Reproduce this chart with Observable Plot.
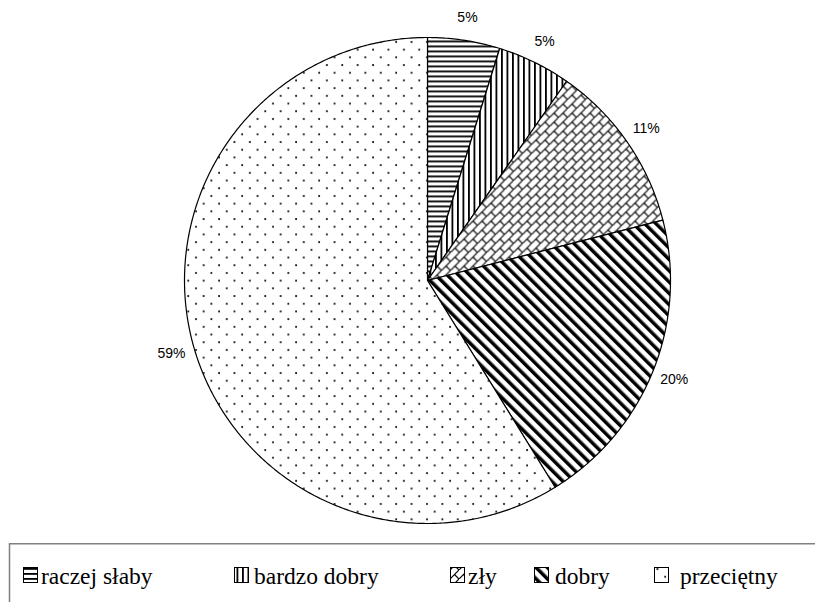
<!DOCTYPE html>
<html><head><meta charset="utf-8">
<script src="https://cdn.jsdelivr.net/npm/d3@7"></script>
<script src="https://cdn.jsdelivr.net/npm/@observablehq/plot@0.6"></script>
<style>
body{margin:0;background:#fff;width:815px;height:602px;overflow:hidden;position:relative;}
#legend{position:absolute;left:0;top:543px;}
</style></head><body><div id="chart"></div><div id="legend"></div>
<script>
const categories = ["raczej słaby", "bardzo dobry", "zły", "dobry", "przeciętny"];
const values = [4.8, 4.9, 11.3, 20.2, 58.8];
const labels = ["5%", "5%", "11%", "20%", "59%"];
const patternIds = ["p-hor", "p-ver", "p-brick", "p-diag", "p-dots"];

const arcs = d3.pie().sort(null).value(d => d)(values);
const slicePts = arcs.map((a, i) => {
  const pts = [{x: 0, y: 0}];
  const n = Math.max(4, Math.ceil((a.endAngle - a.startAngle) / 0.01));
  for (let k = 0; k <= n; k++) {
    const t = a.startAngle + (a.endAngle - a.startAngle) * k / n;
    pts.push({x: Math.sin(t), y: Math.cos(t)});
  }
  pts.push({x: 0, y: 0});
  return pts;
});
const labelR = 1.095;
const labelData = arcs.map((a, i) => {
  const m = (a.startAngle + a.endAngle) / 2;
  return {x: labelR * Math.sin(m), y: labelR * Math.cos(m), text: labels[i]};
});

const cx = 427, cy = 280, R = 243;
const plot = Plot.plot({
  width: 815, height: 543, margin: 0,
  x: {domain: [-1, 1], range: [cx - R, cx + R], axis: null},
  y: {domain: [-1, 1], range: [cy + R, cy - R], axis: null},
  marks: [
    ...slicePts.map((pts, i) => Plot.line(pts, {x: "x", y: "y", fill: `url(#${patternIds[i]})`, stroke: "#000", strokeWidth: 1.2, strokeLinejoin: "round"})),
    Plot.text(labelData, {x: "x", y: "y", text: "text", fontSize: 14, fill: "#000", fontFamily: "'Liberation Sans', Arial, sans-serif"})
  ]
});
plot.style.background = "#fff";
document.getElementById("chart").appendChild(plot);

const defs = `
<pattern id="p-hor" patternUnits="userSpaceOnUse" width="5" height="5"><rect width="5" height="5" fill="#fff"/><rect y="0" width="5" height="1.8" fill="#000"/></pattern>
<pattern id="p-ver" patternUnits="userSpaceOnUse" width="5.5" height="5"><rect width="5.5" height="5" fill="#fff"/><rect x="0" width="1.8" height="5" fill="#000"/></pattern>
<pattern id="p-brick" patternUnits="userSpaceOnUse" width="9" height="9"><rect width="9" height="9" fill="#fff"/><path d="M-2,11 L11,-2 M4.5,4.5 L9,9" stroke="#000" stroke-width="1.2" fill="none"/></pattern>
<pattern id="p-diag" patternUnits="userSpaceOnUse" width="8" height="8" patternTransform="rotate(-45)"><rect width="8" height="8" fill="#fff"/><rect x="0" width="3.5" height="8" fill="#000"/></pattern>
<pattern id="p-dots" patternUnits="userSpaceOnUse" width="15.4" height="15.4"><rect width="15.4" height="15.4" fill="#fff"/><circle cx="3" cy="3" r="1" fill="#000"/><circle cx="10.7" cy="10.7" r="1" fill="#000"/></pattern>`;
const svgEl = plot.tagName.toLowerCase() === "svg" ? plot : plot.querySelector("svg");
const defsEl = document.createElementNS("http://www.w3.org/2000/svg", "defs");
defsEl.innerHTML = defs;
svgEl.insertBefore(defsEl, svgEl.firstChild);

// legend (SVG below the chart)
const iconX = [23, 234, 450, 534, 654];
const textX = [41, 254, 468, 555, 680];
const ns = "http://www.w3.org/2000/svg";
const lg = document.createElementNS(ns, "svg");
lg.setAttribute("width", 815); lg.setAttribute("height", 59);
lg.style.display = "block";
let html = `<rect x="9.5" y="0.75" width="820" height="80" fill="#fff" stroke="#808080" stroke-width="1.5"/>`;
categories.forEach((c, i) => {
  html += `<rect x="${iconX[i] + 0.5}" y="24.5" width="14" height="15" fill="url(#${patternIds[i]})" stroke="#000" stroke-width="1"/>`;
  html += `<text x="${textX[i]}" y="41" font-family="Liberation Serif, DejaVu Serif, serif" font-size="23.5" fill="#000">${c}</text>`;
});
lg.innerHTML = html;
document.getElementById("legend").appendChild(lg);
</script>
</body></html>
